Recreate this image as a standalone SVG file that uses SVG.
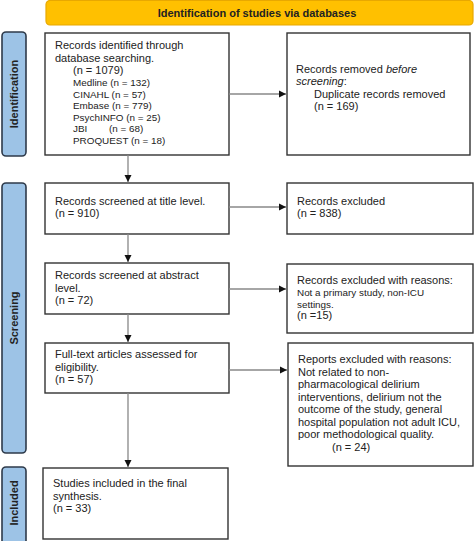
<svg xmlns="http://www.w3.org/2000/svg" width="474" height="541" viewBox="0 0 474 541">
<defs>
<marker id="ah" markerWidth="8" markerHeight="8" refX="7" refY="4" orient="auto" markerUnits="userSpaceOnUse">
<path d="M0,0.5 L7,4 L0,7.5 Z" fill="#111"/>
</marker>
<style>
text{font-family:"Liberation Sans",Arial,sans-serif;fill:#222;}
.box{fill:#fff;stroke:#333;stroke-width:1.4;}
.side{fill:#9DC3E6;stroke:#2E3A4A;stroke-width:1.6;}
.hdr{fill:#FFC000;stroke:#E8A800;stroke-width:1.2;}
.t{font-size:11px;}
.s{font-size:9.9px;}
.lbl{font-size:11px;font-weight:bold;}
.conn{stroke:#888;stroke-width:1.3;fill:none;marker-end:url(#ah);}
</style>
</defs>
<g id="header">
<rect class="hdr" x="46" y="0.5" width="427" height="24.5" rx="4"/>
<text x="257" y="17" text-anchor="middle" style="font-size:11px;font-weight:bold">Identification of studies via databases</text>
</g>
<g id="label-identification">
<rect class="side" x="2" y="32" width="24" height="124" rx="4"/>
<text class="lbl" transform="translate(18,94) rotate(-90)" text-anchor="middle">Identification</text>
</g>
<g id="label-screening">
<rect class="side" x="2" y="183" width="24" height="270" rx="4"/>
<text class="lbl" transform="translate(18,318) rotate(-90)" text-anchor="middle">Screening</text>
</g>
<g id="label-included">
<rect class="side" x="2" y="467" width="24" height="80" rx="4"/>
<text class="lbl" transform="translate(18,503) rotate(-90)" text-anchor="middle">Included</text>
</g>
<g id="records-identified">
<rect class="box" x="45" y="33" width="184" height="122"/>
<text class="t" x="55" y="49">Records identified through</text>
<text class="t" x="55" y="62">database searching.</text>
<text class="t" x="73" y="74">(n = 1079)</text>
<text class="s" x="73" y="86">Medline (n = 132)</text>
<text class="s" x="73" y="97.5">CINAHL (n = 57)</text>
<text class="s" x="73" y="109">Embase (n = 779)</text>
<text class="s" x="73" y="120.5">PsychINFO (n = 25)</text>
<text class="s" x="73" y="132">JBI <tspan x="109">(n = 68)</tspan></text>
<text class="s" x="73" y="143.5">PROQUEST (n = 18)</text>
</g>
<g id="records-removed">
<rect class="box" x="287" y="33" width="183" height="122"/>
<text class="t" x="296" y="73">Records removed <tspan font-style="italic">before</tspan></text>
<text class="t" x="296" y="85"><tspan font-style="italic">screening</tspan>:</text>
<text class="t" x="314" y="98">Duplicate records removed</text>
<text class="t" x="314" y="110">(n = 169)</text>
</g>
<g id="title-screen">
<rect class="box" x="45" y="183" width="184" height="51"/>
<text class="t" x="55" y="205">Records screened at title level.</text>
<text class="t" x="55" y="217">(n = 910)</text>
</g>
<g id="title-excluded">
<rect class="box" x="287" y="183" width="186" height="51"/>
<text class="t" x="297" y="205">Records excluded</text>
<text class="t" x="297" y="217">(n = 838)</text>
</g>
<g id="abstract-screen">
<rect class="box" x="45" y="263" width="184" height="51"/>
<text class="t" x="55" y="279">Records screened at abstract</text>
<text class="t" x="55" y="292">level.</text>
<text class="t" x="55" y="304">(n = 72)</text>
</g>
<g id="abstract-excluded">
<rect class="box" x="287" y="264" width="186" height="69"/>
<text class="t" x="297" y="284">Records excluded with reasons:</text>
<text class="s" x="297" y="296">Not a primary study, non-ICU</text>
<text class="s" x="297" y="307.5">settings.</text>
<text class="t" x="297" y="319">(n =15)</text>
</g>
<g id="fulltext">
<rect class="box" x="45" y="343" width="184" height="50"/>
<text class="t" x="55" y="358">Full-text articles assessed for</text>
<text class="t" x="55" y="371">eligibility.</text>
<text class="t" x="55" y="383">(n = 57)</text>
</g>
<g id="reports-excluded">
<rect class="box" x="288" y="343" width="185" height="123"/>
<text class="t" x="298" y="363">Reports excluded with reasons:</text>
<text class="t" x="298" y="375.5">Not related to non-</text>
<text class="t" x="298" y="388">pharmacological delirium</text>
<text class="t" x="298" y="400.5">interventions, delirium not the</text>
<text class="t" x="298" y="413">outcome of the study, general</text>
<text class="t" x="298" y="425.5">hospital population not adult ICU,</text>
<text class="t" x="298" y="438">poor methodological quality.</text>
<text class="t" x="332" y="450.5">(n = 24)</text>
</g>
<g id="included">
<rect class="box" x="43" y="468" width="185" height="71"/>
<text class="t" x="53" y="487">Studies included in the final</text>
<text class="t" x="53" y="499.5">synthesis.</text>
<text class="t" x="53" y="512">(n = 33)</text>
</g>
<g id="connectors">
<path class="conn" d="M229,94 H286"/>
<path class="conn" d="M128,155 V182"/>
<path class="conn" d="M229,207 H286"/>
<path class="conn" d="M128,234 V262"/>
<path class="conn" d="M229,289 H286"/>
<path class="conn" d="M128,314 V342"/>
<path class="conn" d="M229,370 H287"/>
<path class="conn" d="M128,393 V467"/>
</g>
</svg>
